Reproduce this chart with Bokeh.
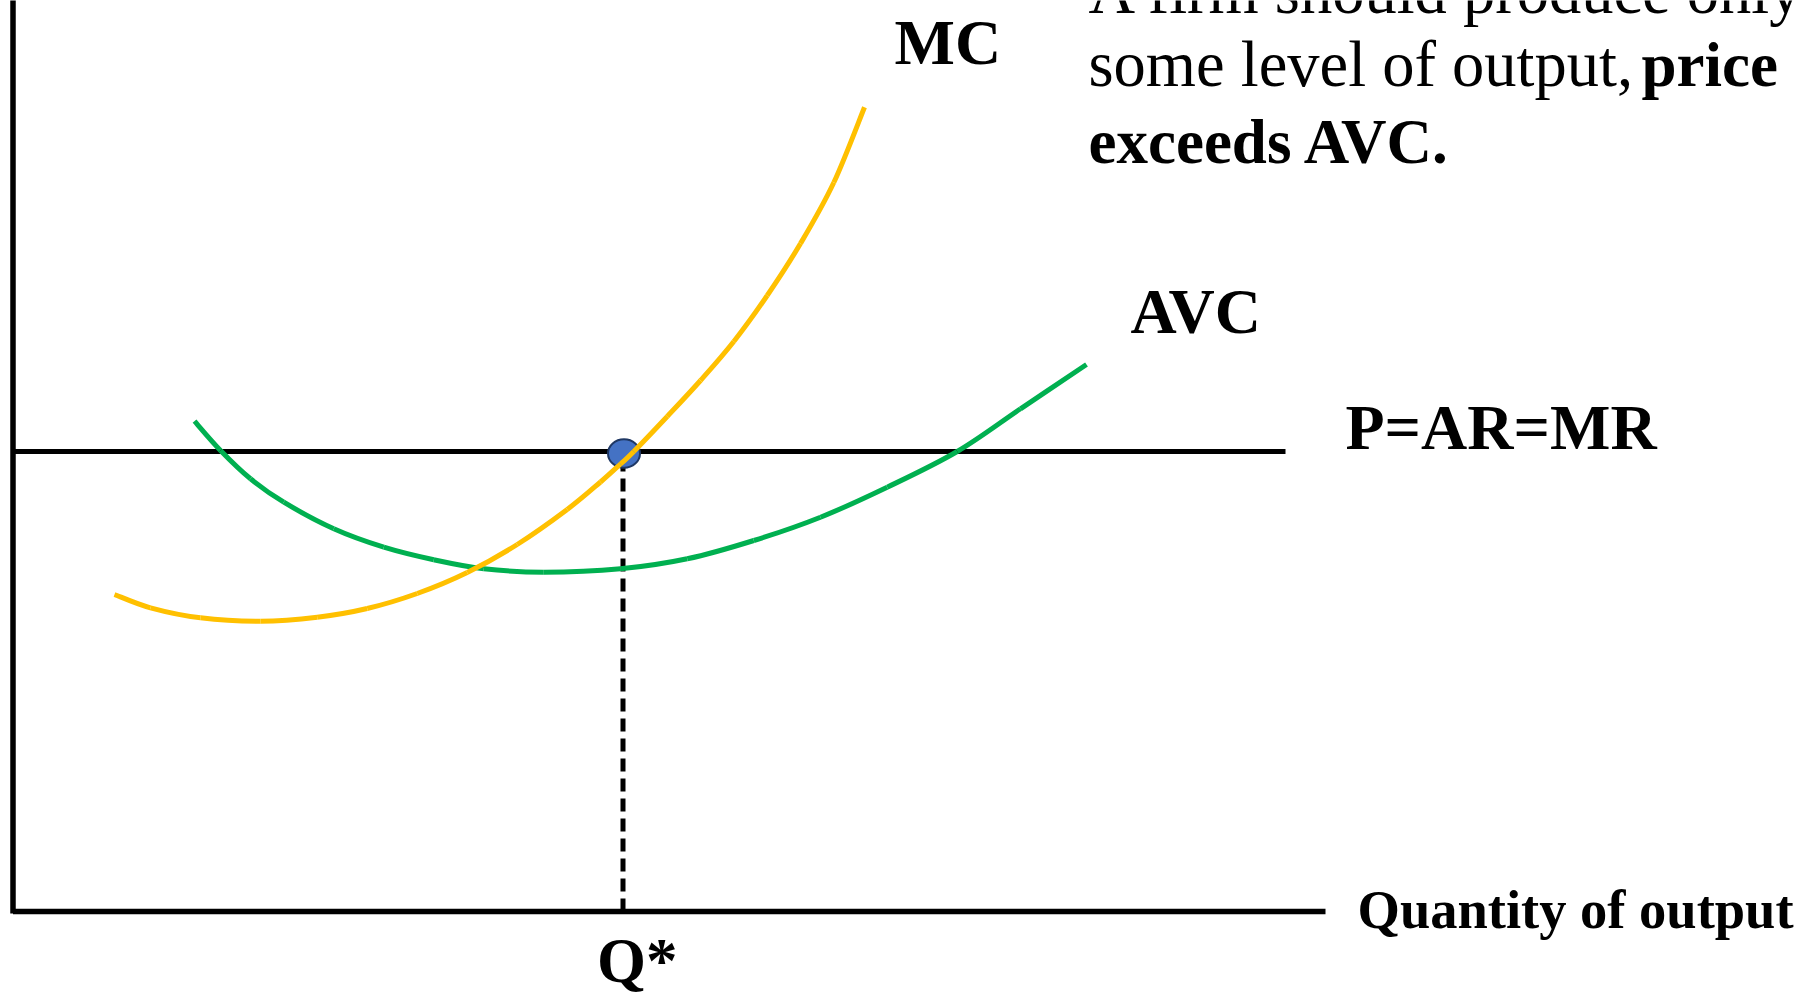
from bokeh.plotting import figure
from bokeh.models import Range1d, ColumnDataSource
from bokeh.core.properties import value
from bokeh.embed import file_html
from bokeh.resources import INLINE

# ---------------- data ----------------
# Marginal cost curve: quantity, cost
mc_q = [10.15, 13.75, 18.75, 24.75, 30.42, 35.42, 40.42, 45.42, 50.42, 55.42,
        58.75, 60.75, 62.08, 65.42, 68.75, 72.08, 75.42, 78.75, 82.08, 85.15]
mc_c = [31.70, 30.37, 29.37, 29.03, 29.43, 30.30, 31.80, 33.90, 36.70, 40.20,
        42.95, 44.75, 46.00, 49.50, 53.10, 57.00, 61.60, 66.80, 72.90, 80.43]

# Average variable cost curve: quantity, cost
avc_q = [18.15, 20.75, 23.75, 27.08, 32.08, 37.08, 42.08, 47.08, 53.08, 60.75,
         67.42, 74.08, 80.75, 87.42, 94.42, 100.75, 107.35]
avc_c = [49.03, 46.10, 43.27, 40.93, 38.27, 36.43, 35.17, 34.27, 33.93, 34.27,
         35.27, 37.10, 39.43, 42.43, 46.00, 50.27, 54.70]

price = 46.0          # P = AR = MR
q_star = 61.0         # profit-maximising output
price_line_end = 127.25
q_axis_end = 131.25
p_axis_end = 91.5

labels = ["MC", "AVC", "P=AR=MR"]
label_x = [88.15, 111.75, 133.25]
label_y = [86.9, 60.0, 48.4]

x_axis_title = "Quantity of output"
q_star_label = "Q*"

note_regular = ["A firm should produce only if, at", "some level of output,"]
note_regular_y = [92.0, 84.7]
note_bold = ["price", "exceeds AVC."]
note_bold_x = [162.85, 107.55]
note_bold_y = [84.7, 77.0]
note_x = 107.55

FONT = value("Liberation Serif")


def smooth_segments(xs, ys):
    """Cubic Bezier segments passing through the given points (Catmull-Rom)."""
    n = len(xs)
    px = [xs[0]] + list(xs) + [xs[-1]]
    py = [ys[0]] + list(ys) + [ys[-1]]
    d = dict(x0=[], y0=[], x1=[], y1=[], cx0=[], cy0=[], cx1=[], cy1=[])
    for i in range(1, n):
        a, b, c, e = i - 1, i, i + 1, i + 2
        d["x0"].append(px[b]); d["y0"].append(py[b])
        d["x1"].append(px[c]); d["y1"].append(py[c])
        d["cx0"].append(px[b] + (px[c] - px[a]) / 6.0)
        d["cy0"].append(py[b] + (py[c] - py[a]) / 6.0)
        d["cx1"].append(px[c] - (px[e] - px[b]) / 6.0)
        d["cy1"].append(py[c] - (py[e] - py[b]) / 6.0)
    return ColumnDataSource(d)


# ---------------- figure ----------------
p = figure(width=1814, height=995, output_backend="svg", toolbar_location=None,
           x_range=Range1d(-1.25, 180.15), y_range=Range1d(-8.4, 91.1),
           x_axis_location=None, y_axis_location=None, min_border=0)
p.grid.visible = False
p.outline_line_color = None
p.background_fill_color = "white"
p.border_fill_color = "white"

# axes drawn as lines
p.line([0, 0], [-0.2, p_axis_end], line_color="black", line_width=5.5, line_cap="butt")
p.line([0, q_axis_end], [0, 0], line_color="black", line_width=5.5, line_cap="butt")

# price line
p.line([0, price_line_end], [price, price], line_color="black", line_width=5)

# dashed drop line to Q*
p.line([q_star, q_star], [0, price], line_color="black", line_width=5, line_dash="13 7")

# point where P = MC
p.ellipse(x=[q_star + 0.1], y=[price - 0.2], width=3.2, height=2.85,
          fill_color="#4472C4", line_color="#1F3864", line_width=2)

# curves
p.bezier(x0="x0", y0="y0", x1="x1", y1="y1", cx0="cx0", cy0="cy0", cx1="cx1", cy1="cy1",
         source=smooth_segments(avc_q, avc_c), line_color="#00B050", line_width=5,
         line_cap="butt")
p.bezier(x0="x0", y0="y0", x1="x1", y1="y1", cx0="cx0", cy0="cy0", cx1="cx1", cy1="cy1",
         source=smooth_segments(mc_q, mc_c), line_color="#FFC000", line_width=5,
         line_cap="butt")

# labels
p.text(x=label_x, y=label_y, text=labels, text_font=FONT, text_font_size="64px",
       text_font_style="bold", text_baseline="alphabetic", text_align="left",
       text_color="black")
p.text(x=[134.45], y=[0.25], text=[x_axis_title], text_font=FONT,
       text_font_size="54.5px", text_font_style="bold", text_baseline="alphabetic",
       text_color="black")
p.text(x=[58.4], y=[-4.9], text=[q_star_label], text_font=FONT,
       text_font_size="63px", text_font_style="bold", text_baseline="alphabetic",
       text_color="black")

# explanatory note
p.text(x=[note_x, note_x], y=note_regular_y, text=note_regular, text_font=FONT,
       text_font_size="64.5px", text_baseline="alphabetic", text_color="black")
p.text(x=note_bold_x, y=note_bold_y, text=note_bold, text_font=FONT,
       text_font_size="63px", text_font_style="bold", text_baseline="alphabetic",
       text_color="black")

open("out.html", "w").write(file_html(p, INLINE))
